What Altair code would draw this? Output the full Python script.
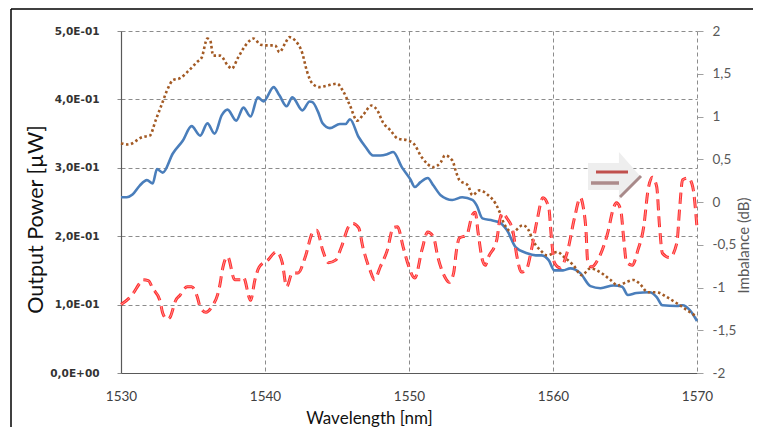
import altair as alt
import pandas as pd

# ---- Output power, solid blue (left axis, uW) ----
blue_nm = [1530.0, 1530.4, 1530.8, 1531.3, 1531.8, 1532.2, 1532.5, 1532.9, 1533.6, 1534.3,
           1534.9, 1535.5, 1536.0, 1536.5, 1537.0, 1537.4, 1538.0, 1538.5, 1539.0, 1539.5,
           1539.9, 1540.6, 1541.0, 1541.5, 1541.9, 1542.6, 1543.1, 1543.3, 1543.7, 1544.0,
           1544.5, 1545.2, 1545.6, 1545.9, 1546.5, 1547.0, 1547.5, 1548.0, 1548.5, 1548.9,
           1549.5, 1550.1, 1550.4, 1550.8, 1551.3, 1551.7, 1552.2, 1553.0, 1553.7, 1554.4,
           1554.7, 1555.1, 1555.8, 1556.3, 1556.8, 1557.4, 1558.2, 1558.8, 1559.2, 1559.7,
           1560.1, 1560.7, 1561.2, 1561.9, 1562.6, 1563.3, 1564.2, 1564.8, 1565.2, 1565.8,
           1566.7, 1567.2, 1567.6, 1568.6, 1569.0, 1569.5, 1570.0]
blue_uw = [0.257, 0.257, 0.261, 0.274, 0.282, 0.277, 0.298, 0.293, 0.321, 0.340,
           0.361, 0.347, 0.365, 0.350, 0.377, 0.385, 0.369, 0.388, 0.375, 0.403,
           0.397, 0.418, 0.406, 0.390, 0.403, 0.384, 0.397, 0.396, 0.381, 0.365,
           0.358, 0.364, 0.364, 0.371, 0.345, 0.330, 0.318, 0.318, 0.320, 0.323,
           0.301, 0.283, 0.272, 0.279, 0.285, 0.274, 0.260, 0.253, 0.257, 0.253,
           0.245, 0.226, 0.223, 0.220, 0.209, 0.184, 0.175, 0.172, 0.172, 0.165,
           0.150, 0.150, 0.153, 0.146, 0.127, 0.124, 0.128, 0.126, 0.114, 0.117,
           0.118, 0.111, 0.099, 0.098, 0.099, 0.092, 0.076]

# ---- Output power, dotted brown (left axis, uW) ----
dot_nm = [1530.0, 1530.5, 1531.5, 1532.0, 1532.4, 1532.8, 1533.3, 1533.6, 1534.1, 1534.7,
          1535.3, 1535.6, 1536.0, 1536.2, 1536.4, 1536.9, 1537.4, 1537.7, 1538.1, 1538.8,
          1539.2, 1539.7, 1540.1, 1540.7, 1541.0, 1541.4, 1541.7, 1542.1, 1542.6, 1542.9,
          1543.3, 1543.8, 1544.3, 1545.0, 1545.4, 1545.9, 1546.4, 1546.8, 1547.4, 1547.8,
          1548.2, 1548.7, 1549.2, 1549.9, 1550.3, 1550.9, 1551.7, 1552.2, 1552.5, 1553.0,
          1553.3, 1553.5, 1554.1, 1554.4, 1554.9, 1555.5, 1556.0, 1556.3, 1556.5, 1557.2,
          1557.9, 1558.3, 1558.6, 1559.1, 1559.6, 1560.3, 1560.8, 1561.4, 1562.0, 1562.6,
          1563.3, 1564.0, 1564.5, 1565.1, 1565.6, 1566.0, 1566.6, 1567.2, 1567.9, 1568.6,
          1569.3, 1570.0]
dot_uw = [0.336, 0.334, 0.345, 0.347, 0.369, 0.391, 0.418, 0.428, 0.431, 0.442,
          0.455, 0.461, 0.489, 0.486, 0.464, 0.464, 0.450, 0.445, 0.460, 0.483,
          0.489, 0.480, 0.479, 0.479, 0.469, 0.482, 0.491, 0.486, 0.467, 0.442,
          0.423, 0.418, 0.420, 0.423, 0.413, 0.391, 0.369, 0.377, 0.391, 0.384,
          0.366, 0.355, 0.343, 0.340, 0.336, 0.315, 0.301, 0.308, 0.318, 0.311,
          0.292, 0.282, 0.274, 0.260, 0.267, 0.260, 0.248, 0.235, 0.223, 0.206,
          0.216, 0.209, 0.194, 0.180, 0.172, 0.177, 0.169, 0.158, 0.143, 0.153,
          0.147, 0.136, 0.128, 0.133, 0.136, 0.131, 0.118, 0.118, 0.111, 0.102,
          0.092, 0.082]

# ---- Imbalance, dashed red (right axis, dB) ----
imb_nm = [1530.0, 1530.8, 1531.3, 1531.5, 1531.9, 1532.2, 1532.7, 1532.9, 1533.2, 1533.4,
          1533.8, 1534.1, 1534.6, 1534.9, 1535.3, 1535.5, 1535.9, 1536.4, 1536.7, 1536.9,
          1537.0, 1537.4, 1537.9, 1538.3, 1538.5, 1539.0, 1539.3, 1539.6, 1540.2, 1540.8,
          1541.2, 1541.5, 1541.9, 1542.3, 1542.8, 1543.3, 1543.6, 1544.0, 1544.4, 1544.9,
          1545.3, 1545.8, 1546.1, 1546.5, 1546.8, 1547.3, 1547.6, 1548.0, 1548.5, 1548.9,
          1549.2, 1549.6, 1549.9, 1550.4, 1550.9, 1551.3, 1551.7, 1552.0, 1552.5, 1552.8,
          1553.1, 1553.3, 1553.5, 1554.0, 1554.4, 1554.6, 1554.8, 1555.1, 1555.3, 1555.5,
          1556.1, 1556.3, 1556.5, 1556.8, 1557.2, 1557.5, 1557.8, 1558.2, 1558.5, 1558.9,
          1559.3, 1559.7, 1559.9, 1560.1, 1560.5, 1561.0, 1561.5, 1561.9, 1562.1, 1562.3,
          1562.4, 1562.7, 1563.1, 1563.8, 1564.2, 1564.4, 1564.7, 1564.9, 1565.1, 1565.5,
          1565.9, 1566.3, 1566.6, 1566.9, 1567.2, 1567.4, 1567.6, 1568.1, 1568.6, 1568.8,
          1569.0, 1569.4, 1569.7, 1570.0]
imb_db = [-1.20, -1.08, -0.95, -0.91, -0.92, -1.01, -1.15, -1.30, -1.37, -1.35,
          -1.15, -1.09, -0.99, -0.99, -1.11, -1.23, -1.29, -1.20, -1.09, -0.94,
          -0.83, -0.64, -0.91, -0.91, -0.88, -1.15, -0.91, -0.76, -0.68, -0.58,
          -0.71, -0.99, -0.83, -0.83, -0.64, -0.36, -0.33, -0.56, -0.71, -0.68,
          -0.53, -0.29, -0.25, -0.30, -0.53, -0.80, -0.91, -0.76, -0.56, -0.30,
          -0.29, -0.53, -0.71, -0.89, -0.56, -0.35, -0.41, -0.64, -0.88, -0.94,
          -0.83, -0.56, -0.42, -0.39, -0.15, -0.12, -0.36, -0.68, -0.74, -0.65,
          -0.44, -0.21, -0.13, -0.19, -0.33, -0.64, -0.82, -0.77, -0.56, -0.21,
          0.05, -0.06, -0.44, -0.71, -0.77, -0.58, -0.18, 0.05, -0.06, -0.36,
          -0.68, -0.76, -0.68, -0.36, -0.07, -0.01, -0.09, -0.41, -0.70, -0.74,
          -0.56, -0.29, 0.14, 0.29, 0.18, -0.29, -0.60, -0.65, -0.48, -0.06,
          0.26, 0.28, 0.18, -0.30]

x_ticks = [1530, 1540, 1550, 1560, 1570]
left_ticks = [0, 0.1, 0.2, 0.3, 0.4, 0.5]
right_ticks = [-2, -1.5, -1, -0.5, 0, 0.5, 1, 1.5, 2]

blue_df = pd.DataFrame({"nm": blue_nm, "uw": blue_uw})
dot_df = pd.DataFrame({"nm": dot_nm, "uw": dot_uw})
imb_df = pd.DataFrame({"nm": imb_nm, "db": imb_db})
one = pd.DataFrame({"a": [0]})

GRID = "#8c8c8c"

x_enc = alt.X(
    "nm:Q",
    scale=alt.Scale(domain=[1530, 1570], nice=False, zero=False),
    axis=alt.Axis(
        values=x_ticks, grid=True, gridDash=[4, 3], gridColor=GRID, gridWidth=1,
        domainColor="#595959", domainWidth=1.2, ticks=False, tickSize=0,
        labelFont="Lato", labelFontSize=13.5, labelColor="#404040", labelPadding=16,
        labelFlush=False, format="d",
        title="Wavelength [nm]", titleFont="Lato", titleFontSize=17,
        titleFontWeight="normal", titleColor="#111111",
        titleX=248, titleY=45, titleAlign="center", titleBaseline="middle",
    ),
)

left_axis = alt.Axis(
    values=left_ticks, grid=True, gridDash=[4, 3], gridColor=GRID, gridWidth=1,
    domainColor="#595959", domainWidth=1.2, ticks=True, tickSize=4, tickColor="#8c8c8c",
    labelFont="DejaVu Sans", labelFontWeight="bold", labelFontSize=10.5,
    labelColor="#333333", labelPadding=18,
    labelExpr="datum.value == 0 ? '0,0E+00' : replace(format(datum.value*10, '.1f'), '.', ',') + 'E-01'",
    title="Output Power [µW]", titleFont="Lato", titleFontSize=21.5,
    titleFontWeight="normal", titleColor="#111111",
    titleX=-85, titleY=188, titleAngle=270, titleAlign="center", titleBaseline="middle",
)

y_left = alt.Y("uw:Q", scale=alt.Scale(domain=[0, 0.5], nice=False), axis=left_axis)

blue = alt.Chart(blue_df).mark_line(
    color="#4A7EBB", strokeWidth=2.6, interpolate="monotone"
).encode(x=x_enc, y=y_left)

dotted = alt.Chart(dot_df).mark_line(
    color="#A35A24", strokeWidth=2.6, strokeDash=[2.5, 2.6], interpolate="monotone"
).encode(x=x_enc, y=y_left)

left_group = alt.layer(blue, dotted)

y_right = alt.Y(
    "db:Q",
    scale=alt.Scale(domain=[-2, 2], nice=False),
    axis=alt.Axis(
        orient="right", values=right_ticks, grid=False, domain=False,
        ticks=True, tickSize=6, tickColor="#a0a0a0",
        labelFont="Lato", labelFontSize=13.5, labelColor="#595959", labelPadding=9,
        labelAlign="left",
        labelExpr="(datum.value < 0 ? '-' : '') + replace(toString(abs(datum.value)), '.', ',')",
        title="Imbalance (dB)", titleFont="Lato", titleFontSize=15,
        titleFontWeight="normal", titleColor="#595959",
        titleX=46, titleY=214, titleAngle=270, titleAlign="center", titleBaseline="middle",
    ),
)

red = alt.Chart(imb_df).mark_line(
    color="#FF2E2E", strokeWidth=3, strokeDash=[11, 6], interpolate="monotone"
).encode(x=x_enc, y=y_right)
red_in = alt.Chart(imb_df).mark_line(
    color="#FF9A9A", strokeWidth=0.9, strokeDash=[11, 6], interpolate="monotone"
).encode(x=x_enc, y=y_right)

right_group = alt.layer(red, red_in)

# ---- decorative arrow annotation ----
arrow_path = "M -1 -0.5 L 0.19 -0.5 L 0.19 -0.92 L 1 0 L 0.19 0.92 L 0.19 0.54 L -1 0.54 Z"
arrow = alt.Chart(one).mark_point(
    shape=arrow_path, filled=True, color="#EEEEEE", opacity=1, size=2704, strokeWidth=0
).encode(x=alt.value(493), y=alt.value(145))
arrow_edge = alt.Chart(one).mark_rule(color="#A88A8A", strokeWidth=3).encode(
    x=alt.value(499), y=alt.value(166), x2=alt.value(520), y2=alt.value(145)
)
arrow_red = alt.Chart(one).mark_rule(color="#C0504D", strokeWidth=3).encode(
    x=alt.value(475), x2=alt.value(507), y=alt.value(141)
)
arrow_brown = alt.Chart(one).mark_rule(color="#AD8C8C", strokeWidth=3.5).encode(
    x=alt.value(470), x2=alt.value(498), y=alt.value(152)
)

# ---- outer picture frame (top and left edges) ----
frame_top = alt.Chart(one).mark_rule(color="#000000", strokeWidth=1.5).encode(
    x=alt.value(-110), x2=alt.value(660), y=alt.value(-22)
)
frame_left = alt.Chart(one).mark_rule(color="#000000", strokeWidth=1.5).encode(
    x=alt.value(-110), y=alt.value(-22), y2=alt.value(420)
)

chart = alt.layer(
    left_group, right_group, arrow, arrow_edge, arrow_red, arrow_brown, frame_top, frame_left
).resolve_scale(y="independent").properties(
    width=576, height=342,
    padding={"left": 113, "top": 23, "right": 56, "bottom": 54},
    autosize=alt.AutoSizeParams(type="none"),
    background="white",
).configure_view(strokeWidth=0)

chart.save("out.html", embed_options={"renderer": "svg", "actions": False})
